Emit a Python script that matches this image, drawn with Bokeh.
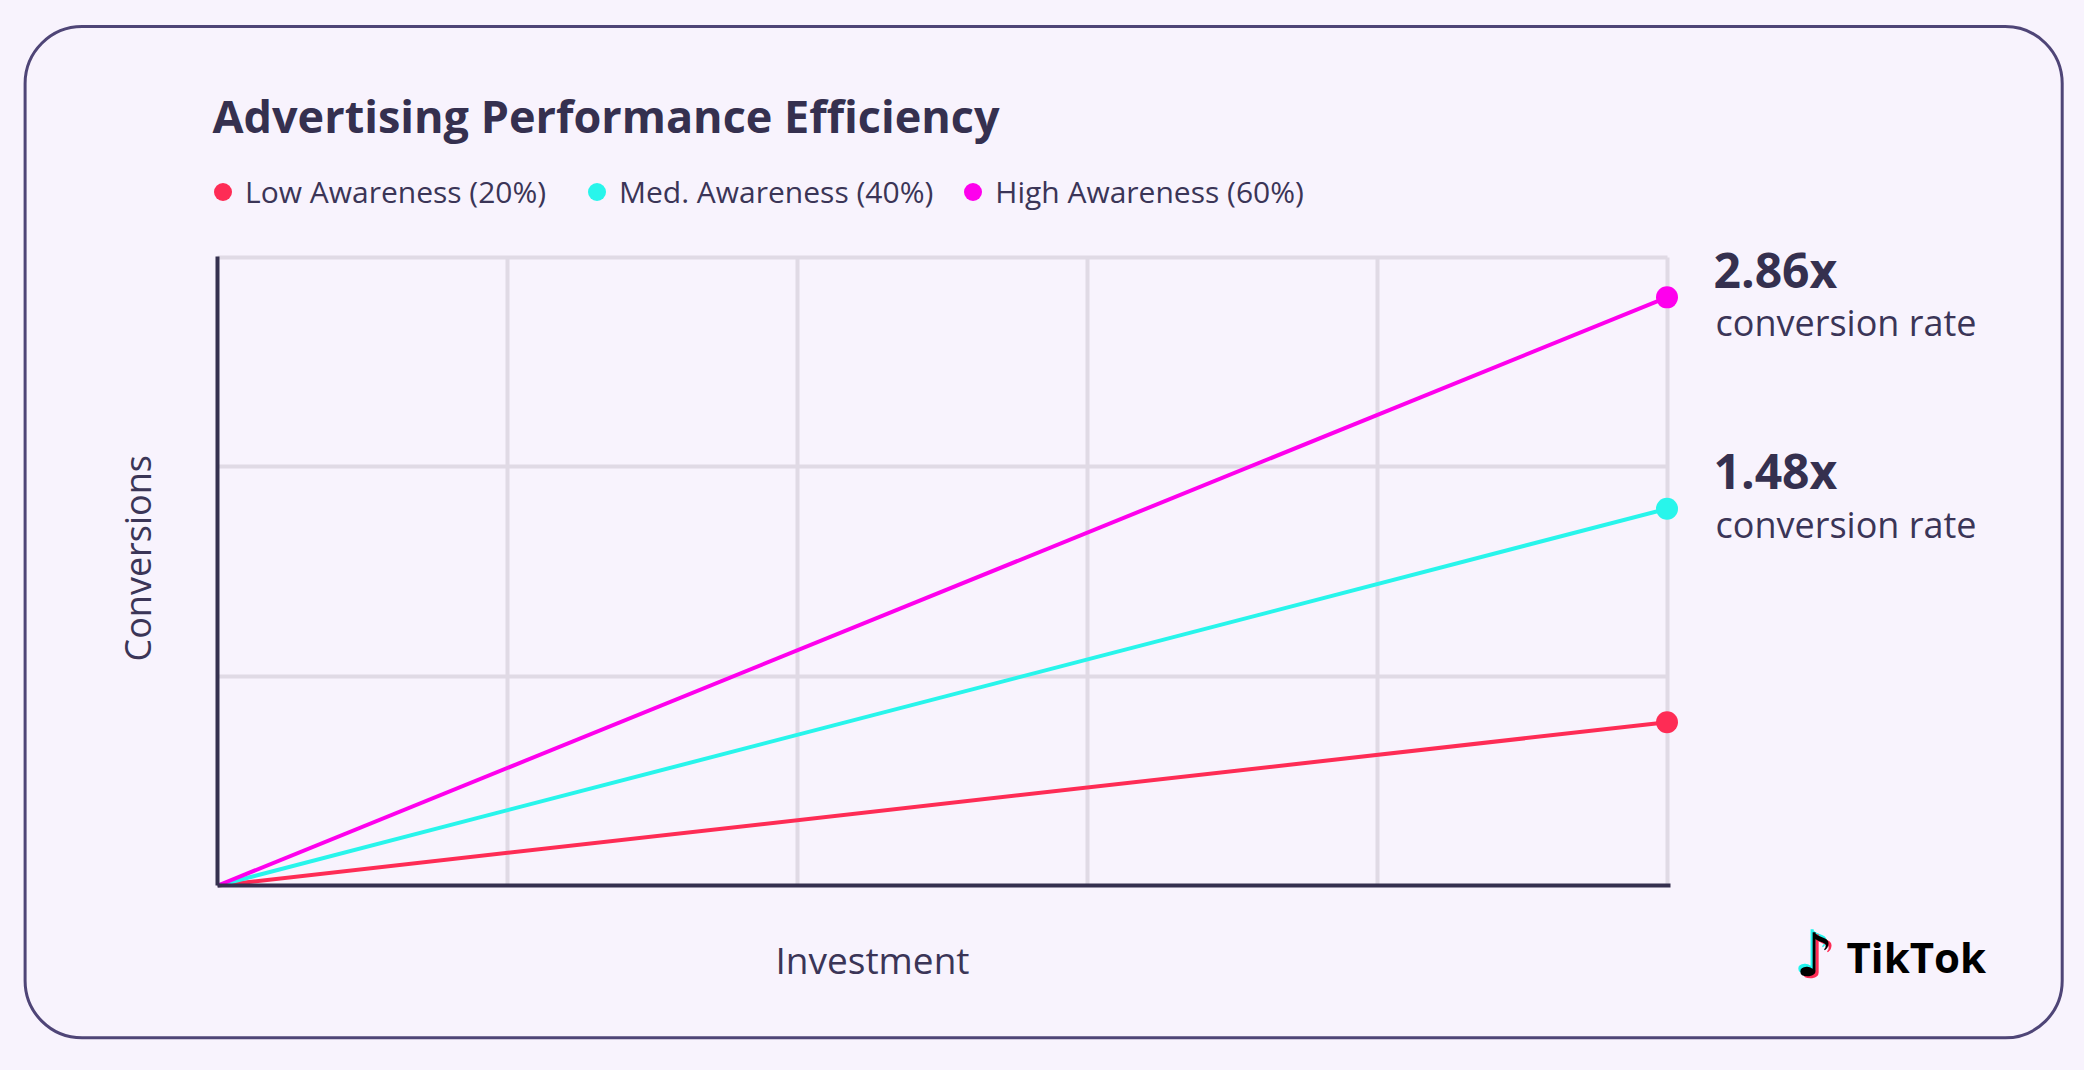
import math
from bokeh.plotting import figure
from bokeh.models import (Range1d, FixedTicker, Label, BoxAnnotation, Legend,
                          LegendItem, CustomJSTickFormatter)
from bokeh.embed import file_html
from bokeh.resources import INLINE

# ---------------- data ----------------
investment = [0, 5]
low_awareness = [0, 0.78]
med_awareness = [0, 1.80]
high_awareness = [0, 2.81]
series_names = ["Low Awareness (20%)", "Med. Awareness (40%)", "High Awareness (60%)"]
series_colors = ["#fe2c55", "#28f5eb", "#fe00ed"]
x_grid_ticks = [1, 2, 3, 4, 5]
y_grid_ticks = [1, 2, 3]
callout_values = ["2.86x", "1.48x"]
callout_caption = "conversion rate"
title_text = "Advertising Performance Efficiency"
x_label = "Investment"
y_label = "Conversions"
brand = "TikTok"

# ---------------- style / layout ----------------
BG = "#f8f3fd"
BORDER = "#4f4577"
GRID = "#e0dae5"
AXIS = "#35304f"
DARK = "#35304f"
TXT = "#3b3557"
FONT = "Open Sans"

W, H = 2068, 1054
# plot area: x 0..5 -> canvas 217.3..1666.5, y 0..3 -> canvas 885..257.1
X0, X5 = 217.3, 1666.5
Y0, Y3 = 885.0, 257.1
sx = (X5 - X0) / 5.0
sy = (Y0 - Y3) / 3.0
x_range = Range1d(-X0 / sx, (W - X0) / sx)
y_range = Range1d(-(H - Y0) / sy, Y0 / sy)

p = figure(width=W, height=H, output_backend="svg", toolbar_location=None,
           x_range=x_range, y_range=y_range, min_border=0)
p.background_fill_color = BG
p.border_fill_color = BG
p.outline_line_color = None

blank = CustomJSTickFormatter(code="return ''")
for ax, bnds in ((p.xaxis[0], (0, 5.012)), (p.yaxis[0], (0, 3.006))):
    ax.ticker = FixedTicker(ticks=[])
    ax.formatter = blank
    ax.fixed_location = 0
    ax.major_tick_line_color = None
    ax.minor_tick_line_color = None
    ax.axis_line_color = AXIS
    ax.axis_line_width = 4
    ax.bounds = bnds

p.xgrid[0].ticker = FixedTicker(ticks=x_grid_ticks)
p.ygrid[0].ticker = FixedTicker(ticks=y_grid_ticks)
for g in (p.xgrid[0], p.ygrid[0]):
    g.grid_line_color = GRID
    g.grid_line_width = 4
try:
    p.xgrid[0].cross_bounds = (0, 3)
    p.ygrid[0].cross_bounds = (0, 5)
except Exception:
    pass

series = [low_awareness, med_awareness, high_awareness]
items = []
for name, vals, col in zip(series_names, series, series_colors):
    p.line(investment, vals, line_width=4, line_color=col)
    r = p.scatter([investment[-1]], [vals[-1]], size=22, fill_color=col, line_color=None)
    items.append(LegendItem(label=name, renderers=[r]))

legend = Legend(items=items, location=(200, 840), orientation="horizontal",
                padding=0, margin=0, spacing=17, glyph_width=45, glyph_height=45,
                label_height=45, label_width=312, label_standoff=0,
                label_text_font=FONT, label_text_font_size="30px",
                label_text_color=TXT, border_line_color=None,
                background_fill_alpha=0)
p.add_layout(legend, "center")

# rounded card border
p.add_layout(BoxAnnotation(left=24.6, right=2061.7, top=26, bottom=1037.3,
                           left_units="canvas", right_units="canvas",
                           top_units="canvas", bottom_units="canvas",
                           fill_alpha=0, line_color=BORDER, line_alpha=1.0,
                           line_width=3, border_radius=57))

def lab(text, x, y, size, style="normal", color=TXT, angle=0, font=FONT, align="left"):
    p.add_layout(Label(x=x, y=y, x_units="canvas", y_units="canvas", text=text,
                       text_font=font, text_font_size=size, text_font_style=style,
                       text_color=color, angle=angle, text_align=align,
                       text_baseline="alphabetic"))

lab(title_text, 212, 115, "45px", "bold", DARK)
lab(callout_values[0], 1713, 269, "48px", "bold", DARK)
lab(callout_caption, 1715, 322, "36px")
lab(callout_values[1], 1713, 470, "48px", "bold", DARK)
lab(callout_caption, 1715, 524, "36px")
lab(x_label, 775, 959, "37px")
lab(y_label, 137, 661, "36px", angle=math.pi / 2)

# brand mark
lab("\u266a", 1793, 951, "60px", "bold", "#25f4ee", font="DejaVu Sans")
lab("\u266a", 1798, 956, "60px", "bold", "#fe2c55", font="DejaVu Sans")
lab("\u266a", 1795, 954, "60px", "bold", "#000000", font="DejaVu Sans")
lab(brand, 1846, 956, "42px", "bold", "#000000")

html = file_html(p, INLINE, title=title_text)
html = html.replace("</head>", "<style>html, body {background-color: %s;}</style></head>" % BG, 1)
open("out.html", "w").write(html)
